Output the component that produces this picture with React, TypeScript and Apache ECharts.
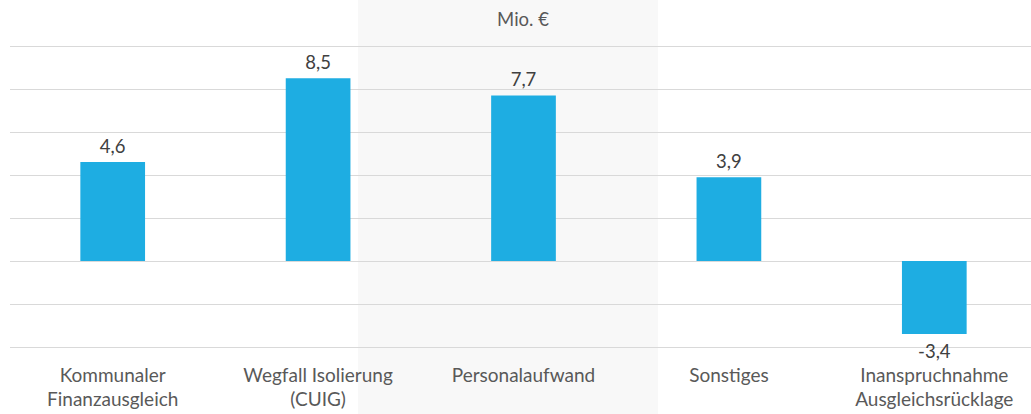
import React, { useEffect, useRef } from "react";
import * as echarts from "echarts";

const categories = [
  "Kommunaler\nFinanzausgleich",
  "Wegfall Isolierung\n(CUIG)",
  "Personalaufwand",
  "Sonstiges",
  "Inanspruchnahme\nAusgleichsrücklage",
];
const values = [4.6, 8.5, 7.7, 3.9, -3.4];
const unitLabel = "Mio. €";
const yMin = -4;
const yMax = 10;
const yInterval = 2;

const FONT = "Lato, 'Open Sans', sans-serif";

export default function App() {
  const ref = useRef<HTMLDivElement>(null);
  useEffect(() => {
    if (!ref.current) return;
    const chart = echarts.init(ref.current, undefined, { renderer: "svg" });
    chart.setOption({
      animation: false,
      backgroundColor: "#ffffff",
      graphic: [
        {
          type: "rect",
          z: -10,
          silent: true,
          shape: { x: 358, y: 0, width: 300, height: 414 },
          style: { fill: "#f8f8f8" },
        },
        {
          type: "text",
          x: 523,
          y: 19,
          style: {
            text: unitLabel,
            fontFamily: FONT,
            fontSize: 18.5,
            fill: "#595959",
            align: "center",
            verticalAlign: "middle",
          },
        },
      ],
      grid: { left: 10, right: 0, top: 46, bottom: 67, containLabel: false },
      xAxis: {
        type: "category",
        data: categories,
        axisLine: { show: false },
        axisTick: { show: false },
        axisLabel: {
          interval: 0,
          margin: 15,
          fontFamily: FONT,
          fontSize: 19,
          lineHeight: 24,
          color: "#595959",
        },
      },
      yAxis: {
        type: "value",
        min: yMin,
        max: yMax,
        interval: yInterval,
        axisLabel: { show: false },
        axisLine: { show: false },
        axisTick: { show: false },
        splitLine: { lineStyle: { color: "#d9d9d9", width: 1 } },
      },
      series: [
        {
          type: "bar",
          data: values.map((v) => ({
            value: v,
            label: { position: v < 0 ? "bottom" : "top" },
          })),
          barWidth: "31.5%",
          itemStyle: { color: "#1eade2" },
          label: {
            show: true,
            distance: 7,
            fontFamily: FONT,
            fontSize: 18.5,
            color: "#404040",
            formatter: (p: any) => String(p.value.toFixed ? p.value.toFixed(1) : p.value).replace(".", ","),
          },
        },
      ],
    });
    return () => chart.dispose();
  }, []);
  return (
    <div style={{ width: 1031, height: 414, position: "absolute", left: 0, top: 0, overflow: "hidden" }}>
      <div ref={ref} style={{ width: 1037, height: 414 }} />
    </div>
  );
}
